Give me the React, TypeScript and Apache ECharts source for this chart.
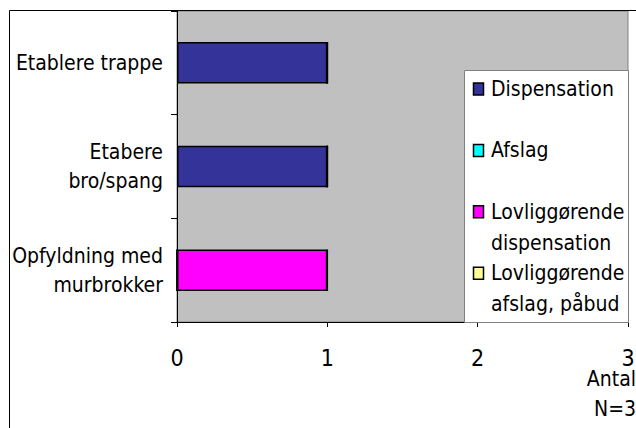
import React, { useEffect, useRef } from "react";
import * as echarts from "echarts";

const categories = ["Opfyldning med\nmurbrokker", "Etabere\nbro/spang", "Etablere trappe"];
const seriesNames = ["Dispensation", "Afslag", "Lovliggørende dispensation", "Lovliggørende afslag, påbud"];
const legendLabels = ["Dispensation", "Afslag", "Lovliggørende\ndispensation", "Lovliggørende\nafslag, påbud"];
const seriesColors = ["#333399", "#00FFFF", "#FF00FF", "#FFFF99"];
const dispensation = [0, 1, 1];
const afslag = [0, 0, 0];
const lovDispensation = [1, 0, 0];
const lovAfslag = [0, 0, 0];
const seriesValues = [dispensation, afslag, lovDispensation, lovAfslag];
const xTicks = [0, 1, 2, 3];
const axisTitle = "Antal";
const nNote = "N=3";

const FONT = "'DejaVu Sans Condensed', 'DejaVu Sans', sans-serif";

export default function App() {
  const ref = useRef<HTMLDivElement>(null);
  useEffect(() => {
    if (!ref.current) return;
    const chart = echarts.init(ref.current, undefined, { renderer: "svg" });
    const legendItems: any[] = [];
    legendLabels.forEach((lbl, i) => {
      const y = 89 + i * 61.4;
      legendItems.push({
        type: "rect",
        shape: { x: 473.5, y: y - 6, width: 10, height: 12 },
        style: { fill: seriesColors[i], stroke: "#000", lineWidth: 1.5 },
        z: 20,
      });
      legendItems.push({
        type: "text",
        x: 491,
        y: y - 15.5,
        style: {
          text: lbl,
          font: `21px ${FONT}`,
          fill: "#000",
          align: "left",
          verticalAlign: "top",
          lineHeight: 31,
        },
        z: 20,
      });
    });
    chart.setOption({
      animation: false,
      backgroundColor: "#fff",
      textStyle: { fontFamily: FONT },
      grid: {
        left: 177,
        top: 11,
        width: 451,
        height: 311,
        show: true,
        backgroundColor: "#C0C0C0",
        borderColor: "#808080",
        borderWidth: 1,
        containLabel: false,
        outerBoundsMode: "none",
      },
      xAxis: {
        type: "value",
        min: 0,
        max: xTicks[xTicks.length - 1],
        interval: 1,
        splitLine: { show: false },
        axisLine: { show: true, lineStyle: { color: "#000", width: 1 } },
        axisTick: { show: true, inside: false, length: 5, lineStyle: { color: "#000" } },
        axisLabel: { fontSize: 23, color: "#000", margin: 24, fontFamily: FONT },
      },
      yAxis: {
        type: "category",
        data: categories,
        axisLine: { show: true, lineStyle: { color: "#000", width: 1 } },
        axisTick: { show: true, inside: false, length: 6, lineStyle: { color: "#000" } },
        axisLabel: {
          fontSize: 21,
          lineHeight: 29,
          color: "#000",
          margin: 14,
          align: "right",
          fontFamily: FONT,
        },
      },
      series: seriesNames.map((name, i) => ({
        name,
        type: "bar",
        stack: "total",
        barCategoryGap: "60%",
        data: seriesValues[i],
        itemStyle: { color: seriesColors[i], borderColor: "#000", borderWidth: 1.5 },
      })),
      graphic: [
        {
          type: "rect",
          shape: { x: 9.5, y: 10.5, width: 700, height: 500 },
          style: { fill: "none", stroke: "#000", lineWidth: 1 },
          z: 30,
          silent: true,
        },
        {
          type: "rect",
          shape: { x: 464.5, y: 70.5, width: 164, height: 252 },
          style: { fill: "#fff", stroke: "#808080", lineWidth: 1 },
          z: 15,
        },
        ...legendItems,
        {
          type: "text",
          x: 636,
          y: 379,
          style: { text: axisTitle, font: `21px ${FONT}`, fill: "#000", align: "right", verticalAlign: "middle" },
          z: 20,
        },
        {
          type: "text",
          x: 636,
          y: 409,
          style: { text: nNote, font: `21px ${FONT}`, fill: "#000", align: "right", verticalAlign: "middle" },
          z: 20,
        },
      ],
    });
    return () => chart.dispose();
  }, []);
  return (
    <div
      ref={ref}
      style={{ position: "fixed", left: 0, top: 0, width: 636, height: 428 }}
    />
  );
}
